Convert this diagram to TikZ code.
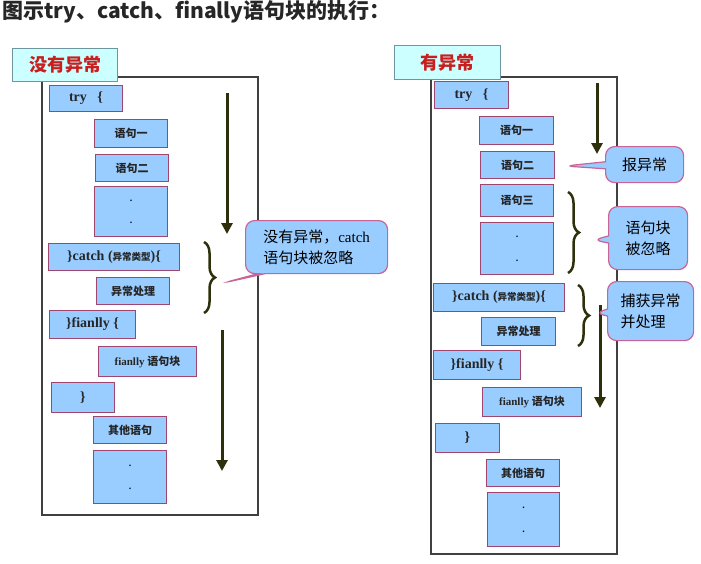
\documentclass[tikz,border=0pt]{standalone}
\usepackage{fontspec}
\setmainfont{Liberation Serif}
\newfontfamily\cjk{Noto Sans CJK SC}
\usepackage{tikz}
\usepackage{xcolor}
\usetikzlibrary{arrows.meta,shapes.callouts,decorations.pathreplacing}

\definecolor{boxblue}{RGB}{153,204,255}
\definecolor{boxedge}{RGB}{160,70,110}
\definecolor{tagcyan}{RGB}{204,255,255}
\definecolor{tagedge}{RGB}{110,150,160}
\definecolor{tagred}{RGB}{200,30,30}
\definecolor{flow}{RGB}{45,48,10}
\definecolor{calledge}{RGB}{200,100,150}
\newcommand{\boxzh}{\cjk\bfseries\fontsize{11}{13}\selectfont}
\newcommand{\tinyzh}{\cjk\bfseries\fontsize{9.5}{10}\selectfont}

\begin{document}
\begin{tikzpicture}[x=1pt,y=-1pt,
  code/.style={draw=boxedge, fill=boxblue, line width=1pt, anchor=north west,
    inner sep=0pt, text=black!85, font=\bfseries\fontsize{14}{16}\selectfont},
  dots/.style={code, align=center, text=blue!40!black, font=\bfseries\fontsize{10}{12}\selectfont},
  tag/.style={draw=tagedge, fill=tagcyan, line width=1pt, anchor=north west,
    inner sep=0pt, text=tagred, font=\cjk\bfseries\fontsize{18}{20}\selectfont},
  note/.style={rectangle callout, rounded corners=9pt, draw=calledge, fill=boxblue,
    line width=1.2pt, anchor=north west, inner sep=0pt, align=left,
    font=\cjk\fontsize{15}{21}\selectfont},
  flowarrow/.style={draw=flow, line width=3pt, -{Triangle[width=11pt,length=11pt]}},
  grp/.style={draw=flow, line width=2.5pt, decorate, decoration={brace, amplitude=11pt}}
]
\useasboundingbox (0,0) rectangle (701,563);

% title
\node[anchor=west, inner sep=0pt, text=black!85, font=\cjk\bfseries\fontsize{21}{23}\selectfont]
  (title) at (2,12) {图示try、catch、finally语句块的执行：};

% --- left: no exception ---
\draw[black!75, line width=1.2pt] (42,77) rectangle (258,515);
\node[tag, minimum width=105pt, minimum height=33pt] (tagL) at (12,48) {没有异常};

\node[code, minimum width=73pt, minimum height=26pt] (tryL) at (49,85) {try \ \ \{};
\node[code, minimum width=73pt, minimum height=28pt] (s1L) at (94,119) {\boxzh 语句一};
\node[code, minimum width=73pt, minimum height=27pt] (s2L) at (95,154) {\boxzh 语句二};
\node[dots, minimum width=73pt, minimum height=50pt] (d1L) at (94,186) {.\\[10pt].};
\node[code, minimum width=131pt, minimum height=27pt] (catchL) at (48,243) {\}catch ({\tinyzh 异常类型})\{};
\node[code, minimum width=73pt, minimum height=27pt] (hdlL) at (96,277) {\boxzh 异常处理};
\node[code, minimum width=86pt, minimum height=28pt] (finL) at (49,310) {\}fianlly \{};
\node[code, minimum width=98pt, minimum height=30pt] (finbL) at (98,346) {\fontsize{11}{13}\selectfont fianlly {\boxzh 语句块}};
\node[code, minimum width=63pt, minimum height=30pt] (endL) at (51,382) {\}};
\node[code, minimum width=73pt, minimum height=27pt] (othL) at (93,416) {\boxzh 其他语句};
\node[dots, minimum width=73pt, minimum height=53pt] (d2L) at (93,450) {.\\[11pt].};

\coordinate (a1s) at (227,93);  \coordinate (a1e) at (227,234);
\coordinate (a2s) at (222,330); \coordinate (a2e) at (222,471);
\draw[flowarrow] (a1s) -- (a1e);
\draw[flowarrow] (a2s) -- (a2e);

\coordinate (b1s) at (204,242); \coordinate (b1e) at (204,313);
\draw[grp] (b1s) -- (b1e);

\coordinate (p1) at (223,283);
\node[note, minimum width=142pt, minimum height=53pt, callout absolute pointer={(p1)}]
  (n1) at (245,220) {没有异常，{\rmfamily catch}\\语句块被忽略};

% --- right: exception thrown ---
\draw[black!75, line width=1.2pt] (431,77) rectangle (617,554);
\node[tag, minimum width=106pt, minimum height=34pt] (tagR) at (394,45) {有异常};

\node[code, minimum width=74pt, minimum height=27pt] (tryR) at (434,81) {try \ \ \{};
\node[code, minimum width=74pt, minimum height=28pt] (s1R) at (479,116) {\boxzh 语句一};
\node[code, minimum width=74pt, minimum height=27pt] (s2R) at (480,151) {\boxzh 语句二};
\node[code, minimum width=73pt, minimum height=32pt] (s3R) at (480,184) {\boxzh 语句三};
\node[dots, minimum width=73pt, minimum height=52pt] (d1R) at (480,222) {.\\[12pt].};
\node[code, minimum width=131pt, minimum height=28pt] (catchR) at (433,283) {\}catch ({\tinyzh 异常类型})\{};
\node[code, minimum width=74pt, minimum height=28pt] (hdlR) at (481,317) {\boxzh 异常处理};
\node[code, minimum width=87pt, minimum height=29pt] (finR) at (433,350) {\}fianlly \{};
\node[code, minimum width=99pt, minimum height=29pt] (finbR) at (482,387) {\fontsize{11}{13}\selectfont fianlly {\boxzh 语句块}};
\node[code, minimum width=64pt, minimum height=29pt] (endR) at (435,423) {\}};
\node[code, minimum width=73pt, minimum height=27pt] (othR) at (486,459) {\boxzh 其他语句};
\node[dots, minimum width=72pt, minimum height=54pt] (d2R) at (487,492) {.\\[12pt].};

\coordinate (a3s) at (597,83);  \coordinate (a3e) at (597,154);
\coordinate (a4s) at (600,305); \coordinate (a4e) at (600,408);
\draw[flowarrow] (a3s) -- (a3e);
\draw[flowarrow] (a4s) -- (a4e);

\coordinate (b2s) at (568,192); \coordinate (b2e) at (568,273);
\coordinate (b3s) at (578,285); \coordinate (b3e) at (578,346);
\draw[grp] (b2s) -- (b2e);
\draw[grp] (b3s) -- (b3e);

\coordinate (p2) at (565,166);
\coordinate (p3) at (593,240);
\coordinate (p4) at (595,313);
\node[note, minimum width=78pt, minimum height=36pt, callout absolute pointer={(p2)}]
  (n2) at (605,146) {报异常};
\node[note, minimum width=79pt, minimum height=63pt, callout absolute pointer={(p3)}]
  (n3) at (608,206) {语句块\\被忽略};
\node[note, minimum width=86pt, minimum height=59pt, callout absolute pointer={(p4)}]
  (n4) at (607,281) {捕获异常\\并处理};
\end{tikzpicture}
\end{document}
